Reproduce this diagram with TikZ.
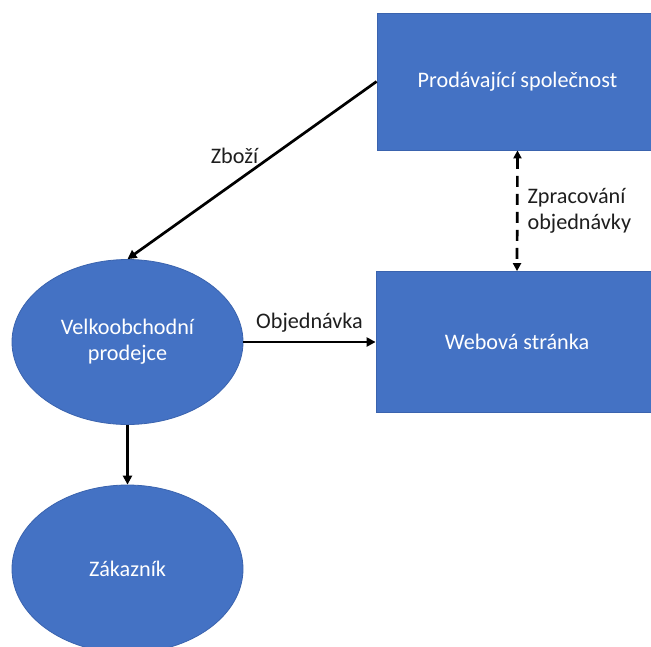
\documentclass[tikz,border=0pt]{standalone}
\usepackage{fontspec}
\setmainfont{Carlito}
\usetikzlibrary{arrows.meta,shapes.geometric}
\definecolor{boxblue}{HTML}{4472C4}
\definecolor{boxedge}{HTML}{3A63AE}
\definecolor{labelc}{HTML}{1E1E1E}
\begin{document}
\begin{tikzpicture}[x=1pt,y=-1pt,
  every node/.style={font=\fontsize{22.2}{26}\selectfont},
  bluebox/.style={rectangle,fill=boxblue,draw=boxedge,line width=0.8pt,text=white,inner sep=0pt,align=center},
  blueell/.style={ellipse,fill=boxblue,draw=boxedge,line width=0.8pt,text=white,inner sep=0pt,align=center},
  conn/.style={line width=2.7pt,draw=black,-{Triangle[length=9pt,width=9pt]}},
  dconn/.style={line width=2.7pt,draw=black,dash pattern=on 11pt off 7pt,{Triangle[length=8pt,width=8pt]}-{Triangle[length=8pt,width=8pt]}},
  lbl/.style={text=labelc,inner sep=0pt}]
\useasboundingbox (0,0) rectangle (651,646);
\clip (0,0) rectangle (651,646);
\node[bluebox,minimum width=281pt,minimum height=137pt] (ps) at (517.5,81.5) {Prodávající společnost};
\node[bluebox,minimum width=282pt,minimum height=141pt] (ws) at (517,342) {Webová stránka};
\node[blueell,minimum width=231pt,minimum height=165pt] (vp) at (127.5,342) {Velkoobchodní\\prodejce};
\node[blueell,minimum width=231pt,minimum height=168pt] (zk) at (127.5,569) {Zákazník};
\draw[conn] (ps.west) -- (vp.north) node[lbl,pos=0.47,anchor=south east] {Zboží};
\draw[dconn] (ps.south) -- (ws.north) node[lbl,midway,right=9pt,align=left] {Zpracování\\objednávky};
\draw[conn] (vp.east) -- (ws.west) node[lbl,midway,above=8pt] {Objednávka};
\draw[conn] (vp.south) -- (zk.north);
\end{tikzpicture}
\end{document}
